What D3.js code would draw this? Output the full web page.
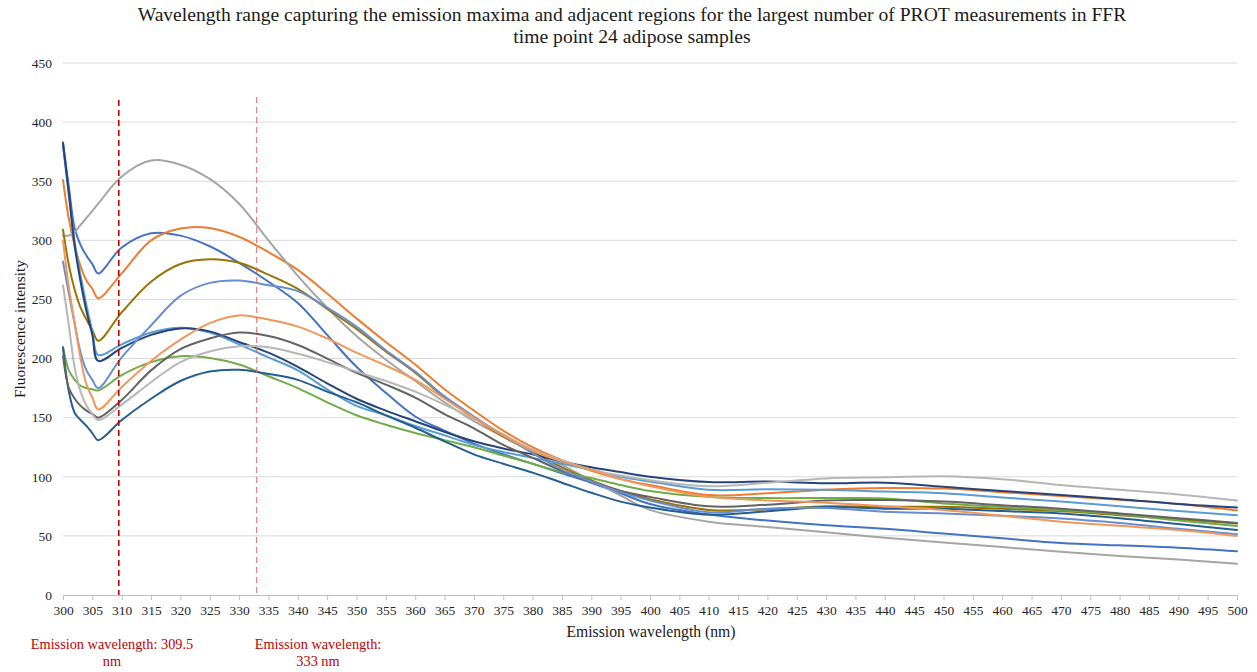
<!DOCTYPE html>
<html><head><meta charset="utf-8">
<script src="https://cdn.jsdelivr.net/npm/d3@7"></script>
<style>
html,body{margin:0;padding:0;background:#fff;}
svg{display:block;font-family:"Liberation Serif","Times New Roman",serif;}
</style></head>
<body>
<svg id="chart" width="1257" height="672"></svg>
<script>
const titleLines = ["Wavelength range capturing the emission maxima and adjacent regions for the largest number of PROT measurements in FFR","time point 24 adipose samples"];
const xTitle = "Emission wavelength (nm)";
const yTitle = "Fluorescence intensity";
const xTicks = d3.range(300, 501, 5);
const yTicks = [0,50,100,150,200,250,300,350,400,450];
const wavelengths = [300,301,302,303,304,305,306,310,315,320,325,330,335,340,345,350,355,360,365,370,375,380,385,390,395,400,410,420,430,440,450,460,470,480,490,500];
const markerValues = [309.5, 333];
const markerLabels = [["Emission wavelength: 309.5","nm"],["Emission wavelength:","333 nm"]];

const sBlue      = [383,345,310,296,287,280,272,294,306,304,295,281,265,247,220,193,171,151,139,128,119,111,103,95,86,77,68,63,59,56,52,48,44,42,40,37];
const sOrange    = [351,318,295,278,266,259,251,272,300,310,310.5,303,290,275,255,234,214,195,174,156,139,125,114,105,98,93,84.5,86,89,90.5,90,87,83.7,80.5,77,71.5];
const sGray      = [304,304,307,313,319,325,331,354,367.5,364,352,331,300,270,243,219,199,181,163,147,134,123,110,97,84,72,62,57.5,53,48.5,44.5,40.5,36.5,33,30,26.5];
const sDarkGold  = [309,279,258,243,233,224,215,239,265,280,284,281,271,259,242,225,206,188,167,150,134,121,108,97,88,81,72,72.5,75,74.6,74.6,73,71,67.5,64,60.5];
const sLightBlue = [380,338,298,270,245,223,203,212,222,226,222,212,201,190,174,160,152,143,135,127,121,116,111,106,100,96,89,89.5,89,87.5,86,82.5,79,75,71,67.5];
const sGreen     = [210,190,182,177,175,174,173,186,197,202,200.5,195,185,175,163,152,144,137,131,125,118,111,104,99,93,88,83,82,82,81.7,77.5,74.5,71.8,68,63,58.3];
const sNavy      = [382,340,295,265,240,220,198,209,220,225.5,223,214,205,193,179,166,156,147,138,130,124,119,113,108,104,100,95.5,96,94.5,95,91.5,88,84.5,81,77,74];
const sDarkBlue  = [209,172,154,148,143,137,131,148,166,181,189,190.5,187,182,172,163,152,141.5,130,119,111,103.5,95,86.5,79,74,68,70.8,74.4,73,73,71,69,65,60,55];
const sDarkGray  = [202,175,166,160,156,153,150,165,190,208,217,222,219,211.5,200,188,178,167,153,141,127,116,105,96,88,83,75,76.4,80,80.3,79,76,73,69,65,61];
const sLightGray = [262,228,192,172,160,153,148,161,180,197,206,210.5,209.5,204,197,189,181,172,161,149,136,123,114,106,101,97,92,95,98.6,99.5,100.5,98,93,89,85,80];
const sLighterBlue=[282,255,229,205,190,182,175,201,228,253,264,266,262,257,243,227,207,189,168,151,135,120,106,96,87,80,70,73,73.6,70.4,69,67,64.8,61,56,51.3];
const sLightOrange=[300,260,230,200,178,167,157,176,198,216,230,236.5,233,227,217,205,194,182,166,150,135,122,113,106,98,92,83,80,78,75,72,67,62,58.5,55,50];

const seriesList = [
  {name:"A", values:sBlue, color:"#4472C4"},
  {name:"B", values:sOrange, color:"#ED7D31"},
  {name:"C", values:sGray, color:"#A5A5A5"},
  {name:"D", values:sDarkGold, color:"#997300"},
  {name:"E", values:sLightBlue, color:"#5B9BD5"},
  {name:"F", values:sGreen, color:"#70AD47"},
  {name:"G", values:sNavy, color:"#264478"},
  {name:"H", values:sDarkBlue, color:"#255E91"},
  {name:"I", values:sDarkGray, color:"#636363"},
  {name:"J", values:sLightGray, color:"#B7B7B7"},
  {name:"K", values:sLighterBlue, color:"#698ED0"},
  {name:"L", values:sLightOrange, color:"#F1975A"}
];

const svg = d3.select("#chart");
const W = 1257, H = 672;
const margin = {left:63, right:20, top:63, bottom:77};
const x = d3.scaleLinear().domain([300,500]).range([margin.left, W - margin.right]);
const y = d3.scaleLinear().domain([0,450]).range([H - margin.bottom, margin.top]);
const serif = "Liberation Serif, Times New Roman, serif";

// gridlines
svg.append("g").selectAll("line").data(yTicks.filter(d=>d>0)).join("line")
  .attr("x1", x(300)).attr("x2", x(500))
  .attr("y1", d=>y(d)).attr("y2", d=>y(d))
  .attr("stroke","#D9D9D9").attr("stroke-width",1);

// x axis
const xAxis = d3.axisBottom(x).tickValues(xTicks).tickSize(5).tickPadding(5).tickFormat(d3.format("d"));
const gx = svg.append("g").attr("transform",`translate(0,${y(0)})`).call(xAxis);
gx.attr("font-family", serif);
gx.select(".domain").attr("stroke","#BFBFBF");
gx.selectAll(".tick line").attr("stroke","#BFBFBF");
gx.selectAll(".tick text").attr("font-family",serif).attr("font-size","13.5px").attr("fill","#262626");

// y axis
const yAxis = d3.axisLeft(y).tickValues(yTicks).tickSize(0).tickPadding(11);
const gy = svg.append("g").attr("transform",`translate(${x(300)},0)`).call(yAxis);
gy.attr("font-family", serif);
gy.select(".domain").remove();
gy.selectAll(".tick text").attr("font-family",serif).attr("font-size","13.5px").attr("fill","#262626");

// lines
const line = d3.line().x((d,i)=>x(wavelengths[i])).y(d=>y(d)).curve(d3.curveCatmullRom.alpha(0.5));
svg.append("g").selectAll("path").data(seriesList).join("path")
  .attr("d", d=>line(d.values))
  .attr("fill","none").attr("stroke", d=>d.color).attr("stroke-width",2)
  .attr("stroke-linejoin","round").attr("stroke-linecap","round");

// marker lines
svg.append("line").attr("x1",x(markerValues[0])).attr("x2",x(markerValues[0]))
  .attr("y1",100).attr("y2",y(0))
  .attr("stroke","#C00000").attr("stroke-width",1.6).attr("stroke-dasharray","6,4");
svg.append("line").attr("x1",x(markerValues[1])).attr("x2",x(markerValues[1]))
  .attr("y1",97).attr("y2",y(0))
  .attr("stroke","#D9696B").attr("stroke-width",1).attr("stroke-dasharray","6,4");

// title
const t = svg.append("text").attr("x",632).attr("y",21).attr("text-anchor","middle")
  .attr("font-family",serif).attr("font-size","19.6px").attr("fill","#1a1a1a");
titleLines.forEach((l,i)=>t.append("tspan").attr("x",632).attr("dy", i===0?0:22).text(l));

// axis titles
svg.append("text").attr("x",651).attr("y",637).attr("text-anchor","middle")
  .attr("font-family",serif).attr("font-size","15.7px").attr("fill","#1a1a1a").text(xTitle);
svg.append("text").attr("transform",`translate(25,329) rotate(-90)`)
  .attr("text-anchor","middle").attr("font-family",serif).attr("font-size","15.4px").attr("fill","#1a1a1a").text(yTitle);

// annotations
const annX = [112, 318];
markerLabels.forEach((lines,k)=>{
  const tx = svg.append("text").attr("x",annX[k]).attr("y",649).attr("text-anchor","middle")
    .attr("font-family",serif).attr("font-size","14.3px").attr("fill","#C00000");
  lines.forEach((l,i)=>tx.append("tspan").attr("x",annX[k]).attr("dy", i===0?0:17).text(l));
});
</script>
</body></html>
